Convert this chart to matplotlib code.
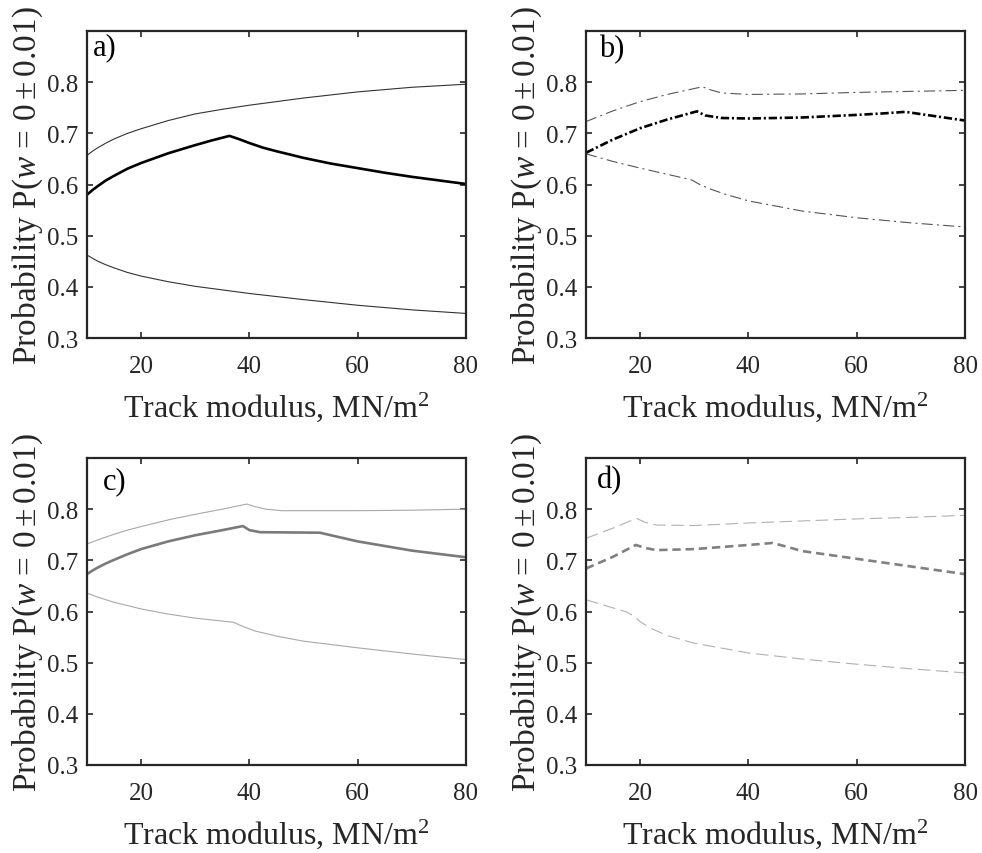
import matplotlib
matplotlib.use("Agg")
import matplotlib.pyplot as plt

plt.rcParams['font.family'] = ['Liberation Serif', 'DejaVu Serif']
plt.rcParams['mathtext.fontset'] = 'custom'
plt.rcParams['mathtext.rm'] = 'Liberation Serif'
plt.rcParams['mathtext.it'] = 'Liberation Serif:italic'
plt.rcParams['lines.scale_dashes'] = False

# panel a)
a_up_x = [10, 11, 12, 13.5, 15, 17.5, 20, 25, 30, 35, 40, 50, 60, 70, 80]
a_up_y = [0.657, 0.665, 0.672, 0.681, 0.689, 0.700, 0.709, 0.725, 0.738, 0.747,
          0.755, 0.769, 0.781, 0.790, 0.796]
a_mid_x = [10, 11, 12, 13.5, 15, 17.5, 20, 25, 30, 33, 36.3, 38, 40, 42.5, 45,
           50, 55, 60, 65, 70, 75, 80]
a_mid_y = [0.580, 0.589, 0.597, 0.608, 0.617, 0.631, 0.642, 0.661, 0.677, 0.686,
           0.695, 0.689, 0.681, 0.672, 0.665, 0.652, 0.641, 0.632, 0.623, 0.615,
           0.608, 0.601]
a_lo_x = [10, 11, 12, 13.5, 15, 17.5, 20, 25, 30, 35, 40, 50, 60, 70, 80]
a_lo_y = [0.462, 0.456, 0.450, 0.443, 0.437, 0.428, 0.421, 0.410, 0.401, 0.394,
          0.387, 0.375, 0.364, 0.355, 0.348]

# panel b)
b_up_x = [10, 15, 20, 25, 31.5, 33, 35, 40, 50, 60, 70, 80]
b_up_y = [0.723, 0.744, 0.762, 0.776, 0.791, 0.785, 0.779, 0.776, 0.777, 0.780, 0.782, 0.784]
b_mid_x = [10, 15, 20, 25, 30.5, 32, 35, 40, 50, 60, 65, 69, 80]
b_mid_y = [0.662, 0.688, 0.710, 0.727, 0.743, 0.735, 0.730, 0.729, 0.731, 0.736, 0.739, 0.742, 0.725]
b_lo_x = [10, 15, 20, 25, 29.5, 31, 33, 36, 40, 50, 60, 70, 80]
b_lo_y = [0.660, 0.645, 0.632, 0.620, 0.609, 0.600, 0.591, 0.580, 0.568, 0.548, 0.535, 0.525, 0.517]

# panel c)
c_up_x = [10, 12, 15, 17.5, 20, 25, 30, 35, 39.5, 41, 43, 46, 50, 60, 70, 80]
c_up_y = [0.732, 0.740, 0.751, 0.759, 0.766, 0.779, 0.790, 0.800, 0.810, 0.805,
          0.800, 0.797, 0.797, 0.797, 0.798, 0.800]
c_mid_x = [10, 11, 12, 13.5, 15, 17.5, 20, 25, 30, 35, 38.8, 40, 42, 53, 60, 70, 80]
c_mid_y = [0.673, 0.680, 0.686, 0.694, 0.701, 0.712, 0.722, 0.737, 0.749, 0.759,
           0.767, 0.759, 0.755, 0.754, 0.737, 0.719, 0.706]
c_lo_x = [10, 12, 15, 20, 25, 30, 37, 39, 41, 45, 50, 60, 70, 80]
c_lo_y = [0.636, 0.628, 0.618, 0.605, 0.595, 0.587, 0.579, 0.570, 0.562, 0.552,
          0.542, 0.529, 0.517, 0.506]

# panel d)
d_up_x = [10, 15, 19.3, 21, 23, 30, 40, 50, 60, 70, 80]
d_up_y = [0.743, 0.763, 0.782, 0.774, 0.769, 0.768, 0.773, 0.777, 0.781, 0.784, 0.788]
d_mid_x = [10, 15, 19.2, 21, 23, 30, 40, 44.5, 50, 60, 70, 80]
d_mid_y = [0.684, 0.707, 0.730, 0.724, 0.720, 0.722, 0.730, 0.734, 0.718, 0.703, 0.688, 0.673]
d_lo_x = [10, 15, 17.5, 19, 20, 22, 25, 30, 40, 50, 60, 70, 80]
d_lo_y = [0.623, 0.607, 0.599, 0.590, 0.580, 0.567, 0.553, 0.538, 0.519, 0.507, 0.497, 0.488, 0.480]

panel_labels = ['a)', 'b)', 'c)', 'd)']
x_ticks = [20, 40, 60, 80]
y_ticks = [0.3, 0.4, 0.5, 0.6, 0.7, 0.8]

W, H = 982, 854
fig = plt.figure(figsize=(W / 100, H / 100), dpi=100)

# axes boxes in pixels: left, top, right, bottom
boxes = [(87, 32, 466, 339), (586, 32, 965, 339),
         (87, 459, 466, 766), (586, 459, 965, 766)]
label_pos = [(0.016, 0.995), (0.034, 0.989), (0.042, 0.973), (0.029, 0.979)]

styles = [
    # (main color, bound color, main dashes, bound dashes)
    ('black', '#333333', None, None),
    ('black', '#555555', (6, 2, 1.5, 2), (8, 3, 1.5, 3)),
    ('#7a7a7a', '#a8a8a8', None, None),
    ('#808080', '#b0b0b0', (6, 3.5), (9, 4)),
]

data = [
    ((a_up_x, a_up_y), (a_mid_x, a_mid_y), (a_lo_x, a_lo_y)),
    ((b_up_x, b_up_y), (b_mid_x, b_mid_y), (b_lo_x, b_lo_y)),
    ((c_up_x, c_up_y), (c_mid_x, c_mid_y), (c_lo_x, c_lo_y)),
    ((d_up_x, d_up_y), (d_mid_x, d_mid_y), (d_lo_x, d_lo_y)),
]

dark = '#262626'

for i, (l, t, r, b) in enumerate(boxes):
    ax = fig.add_axes([l / W, 1 - b / H, (r - l) / W, (b - t) / H])
    main_c, bnd_c, main_d, bnd_d = styles[i]
    up, mid, lo = data[i]
    for (xs, ys), c, lw, d in [(up, bnd_c, 0.8, bnd_d), (lo, bnd_c, 0.8, bnd_d),
                               (mid, main_c, 1.9, main_d)]:
        line, = ax.plot(xs, ys, color=c, lw=lw)
        if d is not None:
            line.set_dashes(d)

    ax.set_xlim(10, 80)
    ax.set_ylim(0.3, 0.9)
    ax.set_xticks(x_ticks)
    ax.set_yticks(y_ticks)
    ax.set_yticklabels(['%.1f' % v for v in y_ticks])
    ax.tick_params(direction='in', top=True, right=True, length=4, width=1.2,
                   labelsize=18, colors=dark)
    ax.tick_params(axis='x', pad=12)
    ax.tick_params(axis='y', pad=6)
    for s in ax.spines.values():
        s.set_linewidth(1.6)
        s.set_color(dark)

    ax.set_xlabel('Track modulus, MN/m$^2$', fontsize=23, color=dark)
    ax.xaxis.set_label_coords(0.5, -0.167)
    ax.set_ylabel(r'Probability P($w$ = $0\pm0.01$)', fontsize=24, color=dark)
    ax.yaxis.set_label_coords(-0.112, 0.5)

    lx, ly = label_pos[i]
    ax.text(lx, ly, panel_labels[i], transform=ax.transAxes, fontsize=22,
            ha='left', va='top', color='black')

fig.savefig('out.png', dpi=100)
